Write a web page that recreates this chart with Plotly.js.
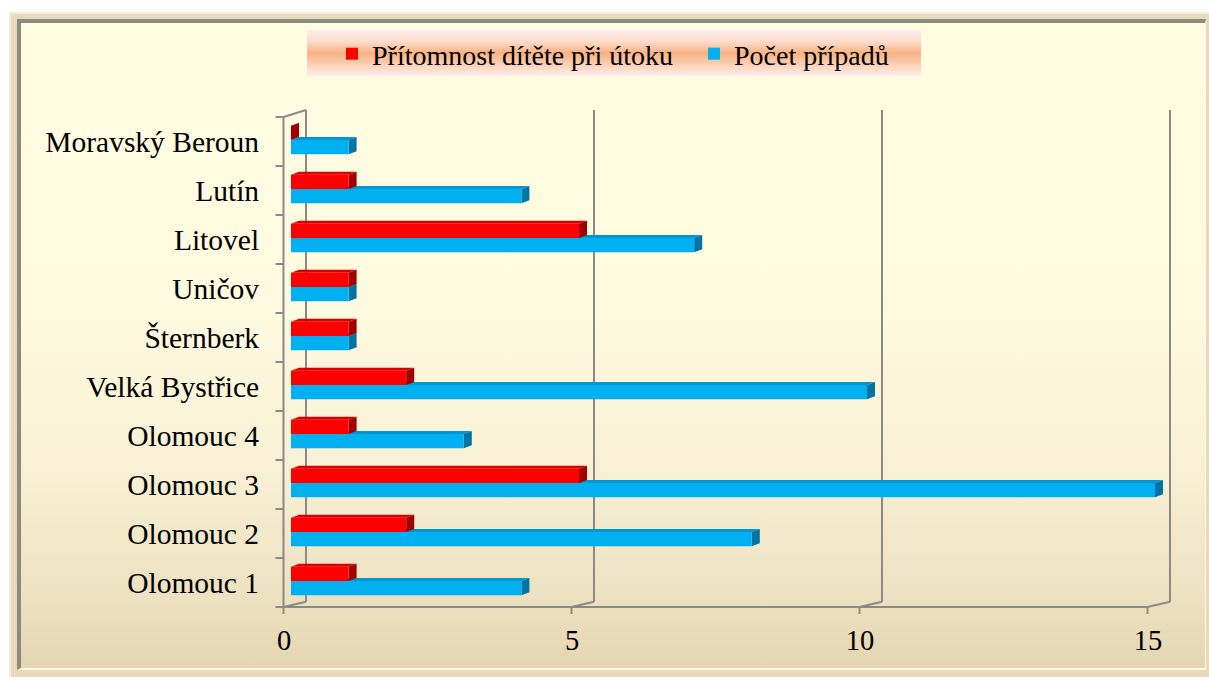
<!DOCTYPE html>
<html>
<head>
<meta charset="utf-8">
<script src="https://cdn.plot.ly/plotly-3.0.1.min.js"></script>
<style>
html,body{margin:0;padding:0;width:1209px;height:677px;overflow:hidden;background:#ffffff;}
#frame{position:absolute;left:9px;top:12px;width:1200px;height:665px;background:#E6DABD;border-top:2px solid #F4ECD8;border-left:2px solid #F4ECD8;box-sizing:border-box;}
#inner{position:absolute;left:6px;top:5px;right:3px;bottom:7px;border-top:4px solid #8E8A80;border-left:4px solid #8E8A80;border-right:1px solid #FFF9E6;border-bottom:2px solid #FFF9E6;
background:linear-gradient(180deg,#FFFCE2 0%,#FEFADF 45%,#F7F0D4 70%,#EDE2C2 88%,#E4D6B0 100%);}
#legbg{position:absolute;left:307px;top:30px;width:614px;height:46px;
background:linear-gradient(180deg,#FDEDEC 0%,#FCDCCB 25%,#F9B282 50%,#FBD4BC 78%,#FDEDEC 100%);}
#chart{position:absolute;left:0;top:0;width:1209px;height:677px;}
</style>
</head>
<body>
<div id="frame"><div id="inner"></div></div>
<div id="legbg"></div>
<div id="chart"></div>
<script>
// ---- data ----
const categories = ['Olomouc 1','Olomouc 2','Olomouc 3','Olomouc 4','Velká Bystřice','Šternberk','Uničov','Litovel','Lutín','Moravský Beroun'];
const pritomnost = [1,2,5,1,2,1,1,5,1,0];
const pocet = [4,8,15,3,10,1,1,7,4,1];
const xTickVals = [0,5,10,15];
const seriesNames = ['Přítomnost dítěte při útoku','Počet případů'];

// ---- geometry helpers (styles) ----
const PX = 1/57.6, PY = 1/49;        // data units per pixel
const FRONT = -7.5*PX, BACK = 15*PX;  // front axis / back wall offsets
const DX = 8*PX, DY = 3*PY;           // bar depth
const BAR_W = 0.29;
const pos = categories.map((c,i)=>i);
const yFrontTop = pos.length-0.5, yFrontBot = -0.5;
const yBackTop = yFrontTop + 7*PY, yBackBot = yFrontBot + 5.3*PY;

const font = '"Liberation Serif", "Times New Roman", serif';
const gray = '#8A8A8A';
const shapes = [];
function seg(x0,y0,x1,y1){
  shapes.push({type:'line',xref:'x',yref:'y',x0:x0,y0:y0,x1:x1,y1:y1,line:{color:gray,width:2},layer:'below'});
}
function poly(pts,color){
  shapes.push({type:'path',xref:'x',yref:'y',path:'M'+pts.map(p=>p[0]+','+p[1]).join('L')+'Z',fillcolor:color,line:{width:0},layer:'below'});
}
// axes & walls
seg(FRONT,yFrontBot,FRONT,yFrontTop);
seg(FRONT,yFrontTop,BACK,yBackTop);
seg(FRONT,yFrontBot,xTickVals[xTickVals.length-1]+FRONT,yFrontBot);
xTickVals.forEach(t=>{
  seg(t+BACK,yBackBot,t+BACK,yBackTop);
  seg(t+FRONT,yFrontBot,t+BACK,yBackBot);
  seg(t+FRONT,yFrontBot,t+FRONT,yFrontBot-7*PY);
});
for(let k=0;k<=pos.length;k++){
  seg(FRONT-8*PX,k-0.5,FRONT,k-0.5);
}
// 3D faces
function faces(vals,off,topCol,sideCol){
  vals.forEach((v,i)=>{
    const y0=i+off, y1=i+off+BAR_W;
    if(v>0) poly([[0,y1],[v,y1],[v+DX,y1+DY],[DX,y1+DY]],topCol);
    poly([[v,y0],[v,y1],[v+DX,y1+DY],[v+DX,y0+DY]],sideCol);
  });
}
faces(pocet,-0.26,'#0096CF','#0074A4');
faces(pritomnost,0.03,'#D80000','#A00000');

const traces = [
  {type:'bar',orientation:'h',name:seriesNames[0],y:pos,x:pritomnost,width:BAR_W,offset:0.03,
   marker:{color:'#FF0000',line:{width:0}},hoverinfo:'skip'},
  {type:'bar',orientation:'h',name:seriesNames[1],y:pos,x:pocet,width:BAR_W,offset:-0.26,
   marker:{color:'#00B0F0',line:{width:0}},hoverinfo:'skip'}
];

const L=270,R=1190,T=100,B=620;
const layout = {
  width:1209,height:677,
  margin:{l:L,r:1209-R,t:T,b:677-B,pad:0},
  paper_bgcolor:'rgba(0,0,0,0)',plot_bgcolor:'rgba(0,0,0,0)',
  barmode:'overlay',
  showlegend:true,
  legend:{orientation:'h',x:(332-L)/(R-L),xanchor:'left',y:(B-54)/(B-T),yanchor:'middle',entrywidth:317,
          bgcolor:'rgba(0,0,0,0)',font:{family:font,size:28,color:'#000'},traceorder:'normal'},
  xaxis:{range:[(L-291)*PX,(R-291)*PX],tickvals:xTickVals,ticktext:xTickVals.map(String),
         showgrid:false,zeroline:false,showline:false,ticks:'outside',ticklen:0,tickcolor:'rgba(0,0,0,0)',
         ticklabelshift:-7,ticklabelstandoff:-5,tickfont:{family:font,size:28.5,color:'#000'},fixedrange:true},
  yaxis:{range:[-0.7653,9.8469],tickvals:pos,ticktext:categories,showgrid:false,zeroline:false,showline:false,
         ticks:'outside',ticklen:4,tickcolor:'rgba(0,0,0,0)',tickfont:{family:font,size:29.5,color:'#000'},fixedrange:true},
  shapes:shapes,
  hovermode:false
};
Plotly.newPlot('chart',traces,layout,{displayModeBar:false,staticPlot:true});
</script>
</body>
</html>
